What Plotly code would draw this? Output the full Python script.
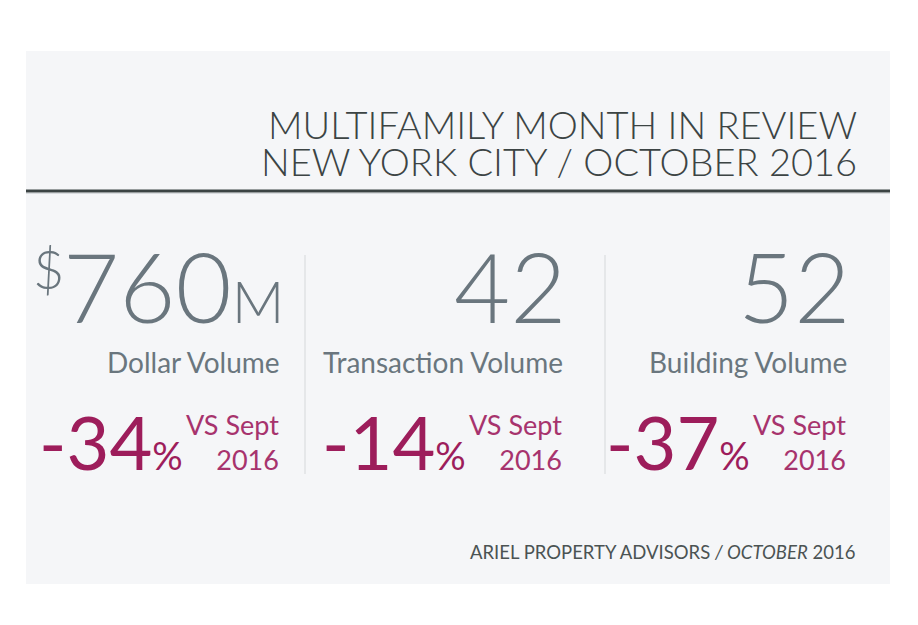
import plotly.graph_objects as go

# figures shown on the card
metric_prefix = ["$", "", ""]
metric_values = ["760", "42", "52"]
metric_suffix = ["M", "", ""]
metric_labels = ["Dollar Volume", "Transaction Volume", "Building Volume"]
pct_change = [-34, -14, -37]
compare_label = ["VS Sept", "2016"]

title_lines = ["MULTIFAMILY MONTH IN REVIEW", "NEW YORK CITY / OCTOBER 2016"]
footer = "ARIEL PROPERTY ADVISORS <i>/ OCTOBER</i> 2016"

W, H = 918, 625
PAD = 8  # page body margin, keep plot coords == screen pixels
col_right = [281, 564, 848]

GRAY = "#6a767e"
DARK = "#3c4444"
MAGENTA = "#9d1d5b"
MAGENTA_LT = "#a7336d"

fig = go.Figure()

# card background, header rule, column dividers
fig.add_shape(type="rect", x0=26, x1=890, y0=51, y1=584,
              fillcolor="#f5f6f8", line_width=0, layer="below")
fig.add_shape(type="line", x0=26, x1=890, y0=191, y1=191,
              line=dict(color=DARK, width=3))
fig.add_shape(type="line", x0=26, x1=890, y0=193.5, y1=193.5,
              line=dict(color="#d9dcdf", width=1))
for xd in [305, 605]:
    fig.add_shape(type="line", x0=xd, x1=xd, y0=255, y1=474,
                  line=dict(color="#dfe2e5", width=1.5))

for i, line in enumerate(title_lines):
    fig.add_annotation(x=859, y=124 + 37 * i, text=line, showarrow=False,
                       xanchor="right", yanchor="middle", height=36, valign="middle",
                       font=dict(family="Lato", weight=300, size=38, color=DARK))

for i in range(3):
    big = metric_values[i]
    if metric_suffix[i]:
        big += f"<span style='font-size:58px'>{metric_suffix[i]}</span>"
    fig.add_annotation(x=col_right[i] + 5, y=285, text=big, showarrow=False,
                       xanchor="right", yanchor="middle",
                       font=dict(family="Lato", weight=300, size=97, color=GRAY))
    if metric_prefix[i]:
        fig.add_annotation(x=66, y=268, text=metric_prefix[i], showarrow=False,
                           xanchor="right", yanchor="middle",
                           font=dict(family="Lato", weight=300, size=54, color=GRAY))
    fig.add_annotation(x=col_right[i] + 1, y=362, text=metric_labels[i], showarrow=False,
                       xanchor="right", yanchor="middle",
                       font=dict(family="Lato", size=28, color=GRAY))
    pct = f"{pct_change[i]}<span style='font-size:38px'>%</span>"
    fig.add_annotation(x=col_right[i] - 96, y=441, text=pct, showarrow=False,
                       xanchor="right", yanchor="middle",
                       font=dict(family="Lato", size=74, color=MAGENTA))
    fig.add_annotation(x=col_right[i], y=442, text="<br>".join(compare_label),
                       showarrow=False, xanchor="right", yanchor="middle", align="right",
                       font=dict(family="Lato", size=27, color=MAGENTA_LT))

fig.add_annotation(x=857, y=552, text=footer, showarrow=False,
                   xanchor="right", yanchor="middle",
                   font=dict(family="Lato", size=18.5, color="#4b5353"))

fig.update_xaxes(range=[PAD, W], visible=False)
fig.update_yaxes(range=[H, PAD], visible=False)
fig.update_layout(width=W - PAD, height=H - PAD, margin=dict(l=0, r=0, t=0, b=0),
                  paper_bgcolor="white", plot_bgcolor="white", showlegend=False)

fig.write_html("out.html")
